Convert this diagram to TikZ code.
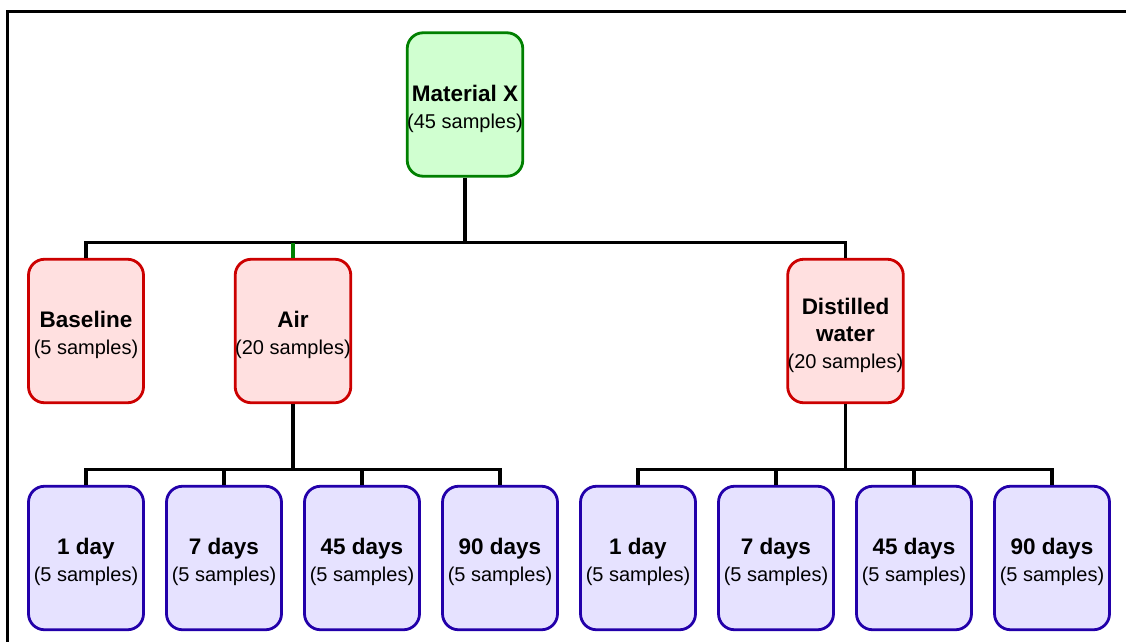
\documentclass[tikz,border=0pt]{standalone}
\usepackage{fontspec}
\setmainfont{Liberation Sans}
\definecolor{gborder}{RGB}{0,128,0}
\definecolor{gfill}{RGB}{208,255,208}
\definecolor{rborder}{RGB}{204,0,0}
\definecolor{rfill}{RGB}{255,224,224}
\definecolor{bborder}{RGB}{34,0,170}
\definecolor{bfill}{RGB}{230,226,255}
\newcommand{\bt}[1]{{\fontsize{22.5}{27}\selectfont\bfseries #1}}
\newcommand{\bfirst}[1]{\rule{0pt}{25pt}\bt{#1}}
\tikzset{
  box/.style={rounded corners=16pt, line width=2.8pt, minimum width=115pt, minimum height=143.5pt, align=center, inner sep=0pt, font=\fontsize{20}{27}\selectfont},
  gbox/.style={box, draw=gborder, fill=gfill},
  rbox/.style={box, draw=rborder, fill=rfill},
  bbox/.style={box, draw=bborder, fill=bfill},
  conn/.style={line width=3.6pt, draw=black},
  frameline/.style={line width=3pt, draw=black}
}
\begin{document}
\begin{tikzpicture}[x=1pt,y=-1pt]
\useasboundingbox (0,0) rectangle (1126,642);
\draw[frameline] (1126,12) -- (7.5,12) -- (7.5,642);
% nodes
\node[gbox] (mat) at (465,104.5) {\bfirst{Material X}\\(45 samples)};
\node[rbox] (base) at (86,331) {\bfirst{Baseline}\\(5 samples)};
\node[rbox] (air) at (293,331) {\bfirst{Air}\\(20 samples)};
\node[rbox] (dist) at (845.5,331) {\bfirst{Distilled}\\\bt{water}\\(20 samples)};
\node[bbox] (a1) at (86,558) {\bfirst{1 day}\\(5 samples)};
\node[bbox] (a7) at (224,558) {\bfirst{7 days}\\(5 samples)};
\node[bbox] (a45) at (362,558) {\bfirst{45 days}\\(5 samples)};
\node[bbox] (a90) at (500,558) {\bfirst{90 days}\\(5 samples)};
\node[bbox] (d1) at (638,558) {\bfirst{1 day}\\(5 samples)};
\node[bbox] (d7) at (776,558) {\bfirst{7 days}\\(5 samples)};
\node[bbox] (d45) at (914,558) {\bfirst{45 days}\\(5 samples)};
\node[bbox] (d90) at (1052,558) {\bfirst{90 days}\\(5 samples)};
% buses
\coordinate (busTop) at (465,242.5);
\coordinate (busAir) at (293,469.5);
\coordinate (busDist) at (845.5,469.5);
% connectors top
\draw[conn] (mat.south) -- (busTop);
\draw[conn] (base.north) -- (base.north |- busTop) -- (dist.north |- busTop) -- (dist.north);
\draw[line width=3.6pt, draw=gborder] (air.north) -- (air.north |- busTop);
% air subtree
\draw[conn] (air.south) -- (busAir);
\draw[conn] (a1.north) -- (a1.north |- busAir) -- (a90.north |- busAir) -- (a90.north);
\draw[conn] (a7.north) -- (a7.north |- busAir);
\draw[conn] (a45.north) -- (a45.north |- busAir);
% distilled subtree
\draw[conn] (dist.south) -- (busDist);
\draw[conn] (d1.north) -- (d1.north |- busDist) -- (d90.north |- busDist) -- (d90.north);
\draw[conn] (d7.north) -- (d7.north |- busDist);
\draw[conn] (d45.north) -- (d45.north |- busDist);
\end{tikzpicture}
\end{document}
